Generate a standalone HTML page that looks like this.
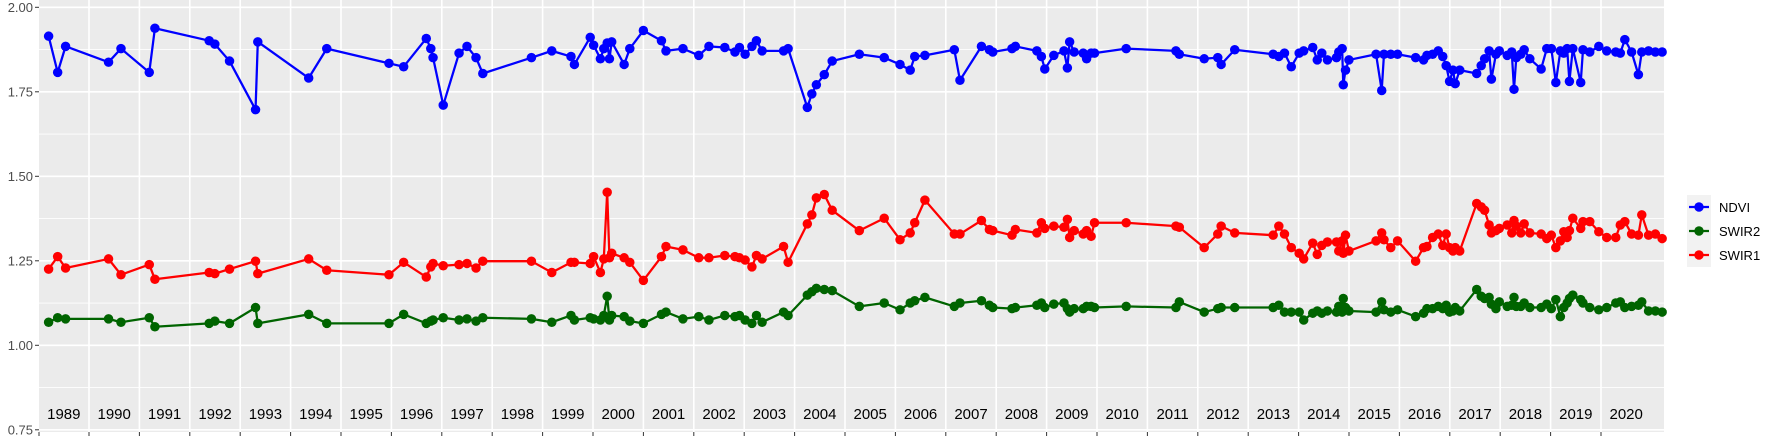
<!DOCTYPE html>
<html><head><meta charset="utf-8"><style>
body{margin:0;background:#fff;}
svg{display:block;font-family:"Liberation Sans",sans-serif;}
</style></head><body>
<svg id="s" width="1773" height="442" xmlns="http://www.w3.org/2000/svg">
<rect x="39" y="0" width="1625" height="432" fill="#ebebeb"/>
<g id="grid"></g>
<g id="data" transform="scale(1.1307)"></g>
<g id="axes" font-size="13" fill="#4d4d4d"></g>
<g id="legend">
<rect x="1687" y="195" width="24" height="72" fill="#f2f2f2"/>
<line x1="1689" x2="1709" y1="207" y2="207" stroke="#0000ff" stroke-width="2.3"/><circle cx="1699" cy="207" r="4.7" fill="#0000ff"/>
<line x1="1689" x2="1709" y1="231" y2="231" stroke="#006400" stroke-width="2.3"/><circle cx="1699" cy="231" r="4.7" fill="#006400"/>
<line x1="1689" x2="1709" y1="255" y2="255" stroke="#ff0000" stroke-width="2.3"/><circle cx="1699" cy="255" r="4.7" fill="#ff0000"/>
<text x="1719" y="212" font-size="13" fill="#000">NDVI</text>
<text x="1719" y="236" font-size="13" fill="#000">SWIR2</text>
<text x="1719" y="260" font-size="13" fill="#000">SWIR1</text>
</g>
</svg>
<script>
var NS="http://www.w3.org/2000/svg";
function el(p,t,a,txt){var e=document.createElementNS(NS,t);for(var k in a)e.setAttribute(k,a[k]);if(txt)e.textContent=txt;p.appendChild(e);return e;}
var g=document.getElementById('grid'),ax=document.getElementById('axes'),d=document.getElementById('data');
function Y(v){return 7.3+(2-v)*338;}
for(var i=0;i<6;i++){var v=2-i*0.25;var y=Y(v);
 el(g,'line',{x1:39,x2:1664,y1:y,y2:y,stroke:'#fff','stroke-width':1.6});
 if(i<5){var ym=Y(v-0.125);el(g,'line',{x1:39,x2:1664,y1:ym,y2:ym,stroke:'#fff','stroke-width':0.8});}
 el(ax,'line',{x1:35,x2:39,y1:y,y2:y,stroke:'#333','stroke-width':1});
 el(ax,'text',{x:33,y:y+4.5,'text-anchor':'end'},v.toFixed(2));
}
var W=50.4;
for(var k=0;k<=30;k++){var x=89+k*W;
 el(g,'line',{x1:x,x2:x,y1:0,y2:432,stroke:'#fff','stroke-width':1.6});
 el(ax,'line',{x1:x,x2:x,y1:432,y2:436,stroke:'#333','stroke-width':1});
}
el(ax,'line',{x1:39,x2:39,y1:432,y2:436,stroke:'#333','stroke-width':1});
for(var k=0;k<32;k++){el(ax,'text',{x:89+(k-0.5)*W,y:419,'text-anchor':'middle','font-size':15,fill:'#000'},String(1989+k));}
var N=[[43,32],[51,64],[58,41],[96,55],[107,43],[132,64],[137,25],[185,36],[190,39],[203,54],[226,97],[228,37],[273,69],[289,43],[344,56],[357,59],[377,34],[381,43],[383,51],[392,93],[406,47],[413,41],[421,51],[427,65],[470,51],[488,45],[505,50],[508,57],[522,33],[525,40],[531,52],[534,43],[537,38],[539,52],[541,37],[552,57],[557,43],[569,27],[585,36],[589,45],[604,43],[618,49],[627,41],[641,42],[650,46],[654,42],[659,48],[665,41],[669,36],[674,45],[693,45],[697,43],[714,95],[718,83],[722,75],[729,66],[736,54],[760,48],[782,51],[796,57],[805,62],[809,50],[818,49],[844,44],[849,71],[868,41],[875,44],[878,46],[895,43],[898,41],[917,45],[921,50],[924,61],[932,49],[941,45],[944,60],[946,37],[950,46],[958,47],[961,52],[965,47],[968,47],[996,43],[1040,45],[1043,48],[1065,52],[1077,51],[1080,57],[1092,44],[1126,48],[1131,50],[1136,47],[1142,59],[1149,47],[1153,45],[1161,42],[1165,53],[1169,47],[1174,53],[1182,51],[1184,46],[1187,43],[1188,75],[1190,62],[1193,53],[1217,48],[1222,80],[1224,48],[1230,48],[1236,48],[1252,51],[1259,53],[1262,49],[1267,48],[1272,45],[1276,50],[1279,58],[1282,72],[1285,62],[1287,74],[1291,62],[1306,65],[1310,58],[1313,52],[1317,45],[1319,70],[1323,48],[1326,45],[1333,49],[1337,46],[1339,79],[1341,51],[1345,48],[1348,44],[1353,52],[1363,61],[1368,43],[1372,43],[1376,73],[1380,45],[1383,47],[1386,43],[1388,72],[1391,43],[1398,73],[1400,44],[1406,46],[1414,41],[1421,45],[1429,46],[1433,47],[1437,35],[1443,46],[1449,66],[1452,46],[1458,45],[1464,46],[1470,46]];
var R=[[43,238],[51,227],[58,237],[96,229],[107,243],[132,234],[137,247],[185,241],[190,242],[203,238],[226,231],[228,242],[273,229],[289,239],[344,243],[357,232],[377,245],[381,236],[383,233],[392,235],[406,234],[413,233],[421,237],[427,231],[470,231],[488,241],[505,232],[508,232],[522,233],[525,227],[531,241],[534,229],[537,170],[539,228],[541,224],[552,228],[557,232],[569,248],[585,227],[589,218],[604,221],[618,228],[627,228],[641,226],[650,227],[654,228],[659,230],[665,236],[669,226],[674,229],[693,218],[697,232],[714,198],[718,190],[722,175],[729,172],[736,186],[760,204],[782,193],[796,212],[805,206],[809,197],[818,177],[844,207],[849,207],[868,195],[875,203],[878,204],[895,208],[898,203],[917,206],[921,197],[924,202],[932,200],[941,201],[944,194],[946,210],[950,204],[958,207],[961,204],[965,209],[968,197],[996,197],[1040,200],[1043,201],[1065,219],[1077,207],[1080,200],[1092,206],[1126,208],[1131,200],[1136,207],[1142,219],[1149,224],[1153,229],[1161,215],[1165,225],[1169,217],[1174,214],[1182,214],[1184,222],[1187,213],[1188,224],[1190,208],[1193,222],[1217,213],[1222,206],[1224,212],[1230,219],[1236,213],[1252,231],[1259,219],[1262,218],[1267,210],[1272,207],[1276,217],[1279,207],[1282,219],[1285,222],[1287,219],[1291,222],[1306,180],[1310,183],[1313,186],[1317,199],[1319,206],[1323,204],[1326,202],[1333,199],[1337,206],[1339,195],[1341,200],[1345,206],[1348,198],[1353,206],[1363,207],[1368,211],[1372,208],[1376,219],[1380,213],[1383,205],[1386,210],[1388,204],[1391,193],[1398,202],[1400,196],[1406,196],[1414,205],[1421,210],[1429,210],[1433,199],[1437,196],[1443,207],[1449,208],[1452,190],[1458,208],[1464,207],[1470,211]];
var G=[[43,285],[51,281],[58,282],[96,282],[107,285],[132,281],[137,289],[185,286],[190,284],[203,286],[226,272],[228,286],[273,278],[289,286],[344,286],[357,278],[377,286],[381,284],[383,283],[392,281],[406,283],[413,282],[421,284],[427,281],[470,282],[488,285],[505,279],[508,283],[522,281],[525,282],[531,283],[534,279],[537,262],[539,283],[541,279],[552,280],[557,284],[569,286],[585,278],[589,276],[604,282],[618,280],[627,283],[641,279],[650,280],[654,279],[659,283],[665,286],[669,279],[674,285],[693,276],[697,279],[714,261],[718,258],[722,255],[729,256],[736,257],[760,271],[782,268],[796,274],[805,268],[809,266],[818,263],[844,271],[849,268],[868,266],[875,270],[878,272],[895,273],[898,272],[917,270],[921,268],[924,272],[932,269],[941,268],[944,273],[946,276],[950,273],[958,273],[961,271],[965,271],[968,272],[996,271],[1040,272],[1043,267],[1065,276],[1077,273],[1080,272],[1092,272],[1126,272],[1131,270],[1136,276],[1142,276],[1149,276],[1153,283],[1161,277],[1165,275],[1169,277],[1174,275],[1182,276],[1184,271],[1187,276],[1188,264],[1190,272],[1193,275],[1217,276],[1222,267],[1224,274],[1230,276],[1236,274],[1252,280],[1259,277],[1262,273],[1267,273],[1272,271],[1276,273],[1279,270],[1282,276],[1285,275],[1287,272],[1291,275],[1306,256],[1310,262],[1313,264],[1317,263],[1319,269],[1323,273],[1326,267],[1333,271],[1337,270],[1339,263],[1341,271],[1345,271],[1348,268],[1353,272],[1363,272],[1368,269],[1372,273],[1376,265],[1380,280],[1383,272],[1386,268],[1388,264],[1391,261],[1398,265],[1400,268],[1406,272],[1414,274],[1421,272],[1429,268],[1433,267],[1437,272],[1443,271],[1449,270],[1452,267],[1458,275],[1464,275],[1470,276]];
function series(P,c){
 el(d,'polyline',{points:P.map(function(p){return p.join(',');}).join(' '),fill:'none',stroke:c,'stroke-width':2,'stroke-linejoin':'round'});
 P.forEach(function(p){el(d,'circle',{cx:p[0],cy:p[1],r:4.2,fill:c});});
}
series(N,'#0000ff');series(G,'#006400');series(R,'#ff0000');
</script>
</body></html>
